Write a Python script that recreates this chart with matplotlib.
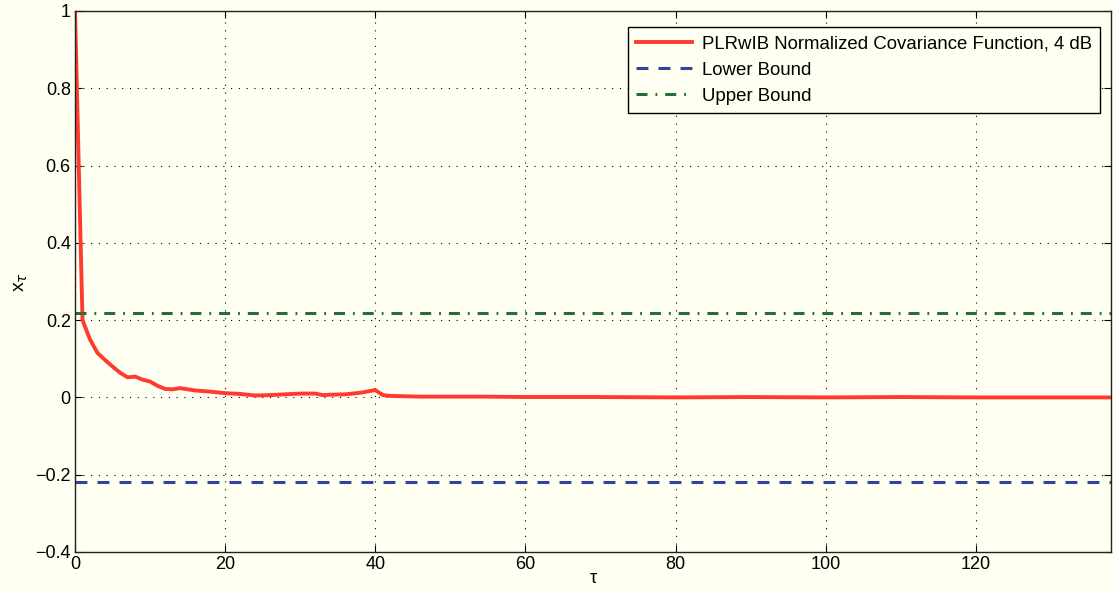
import numpy as np
import matplotlib
matplotlib.use('Agg')
from matplotlib import pyplot as plt

# normalized covariance, read at the lags where the curve bends
tau = [0, 1, 2, 3, 4, 5, 6, 7, 8, 9, 10, 11, 12, 13, 14, 15, 16, 18, 20, 22,
       24, 26, 28, 30, 32, 33, 34, 36, 38, 40, 41, 42, 44, 46, 50, 55, 60, 70,
       80, 90, 100, 110, 120, 130, 138]
cov = [1.0, 0.2, 0.15, 0.115, 0.097, 0.08, 0.064, 0.052, 0.054, 0.046, 0.041,
       0.03, 0.022, 0.021, 0.024, 0.021, 0.018, 0.015, 0.011, 0.009, 0.005,
       0.006, 0.008, 0.010, 0.010, 0.006, 0.007, 0.008, 0.012, 0.019, 0.006,
       0.004, 0.003, 0.002, 0.002, 0.002, 0.001, 0.001, 0.0, 0.001, 0.0, 0.001,
       0.0, 0.0, 0.0]
lower = -0.219
upper = 0.219
xlim = [0, 138]
yticks = [-0.4, -0.2, 0, 0.2, 0.4, 0.6, 0.8, 1]
xticks = [0, 20, 40, 60, 80, 100, 120]

bg = '#fffff2'
plt.rcParams['font.family'] = ['Liberation Sans', 'DejaVu Sans']

fig = plt.figure(figsize=(11.16, 5.91), dpi=100, facecolor=bg)
ax = fig.add_axes([0.0672, 0.066, 0.9283, 0.9154], facecolor=bg)

ax.plot(tau, cov, color='#ff3a2e', lw=2.8, solid_joinstyle='round',
        label='PLRwIB Normalized Covariance Function, 4 dB')
ax.plot(xlim, [lower, lower], color='#3344a0', lw=2.2, dashes=(3.9, 3.3),
        label='Lower Bound')
ax.plot(xlim, [upper, upper], color='#257030', lw=2.2, dashes=(3.6, 2.6, 0.6, 2.6),
        label='Upper Bound')

ax.set_xlim(xlim)
ax.set_ylim(-0.4, 1)
ax.set_xticks(xticks)
ax.set_yticks(yticks)
ax.set_yticklabels(['\u22120.4', '\u22120.2', '0', '0.2', '0.4', '0.6', '0.8', '1'])
ax.tick_params(direction='in', length=5, labelsize=13, pad=3, top=True, right=True)
ax.grid(True, color='k', linestyle=(0, (1, 6)), lw=0.8)
for s in ax.spines.values():
    s.set_linewidth(1.0)
    s.set_color('#222222')

ax.set_xlabel('\u03c4', fontsize=13, labelpad=-2)
ax.set_ylabel('x$_{\\tau}$', fontsize=14, labelpad=4)

leg = ax.legend(loc='upper right', fontsize=13.4, fancybox=False, framealpha=1,
                edgecolor='k', facecolor=bg, borderpad=0.45, labelspacing=0.5,
                handlelength=3.0, handletextpad=0.5,
                bbox_to_anchor=(0.9985, 0.988))
leg.get_frame().set_linewidth(1.0)

fig.savefig('out.png', dpi=100, facecolor=bg)
